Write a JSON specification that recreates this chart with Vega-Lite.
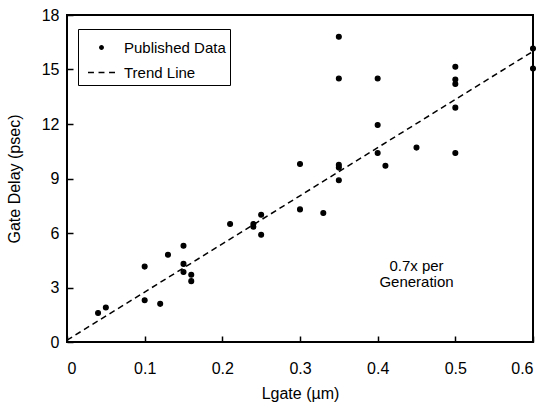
{
  "$schema": "https://vega.github.io/schema/vega-lite/v6.json",
  "width": 466,
  "height": 327,
  "autosize": {"type": "none"},
  "padding": {"left": 67, "top": 15, "right": 14, "bottom": 69},
  "background": "white",
  "config": {
    "view": {"stroke": "black", "strokeWidth": 2},
    "font": "Liberation Sans",
    "axis": {
      "grid": false,
      "domain": false,
      "tickColor": "black",
      "tickWidth": 1.5,
      "tickSize": -6,
      "labelColor": "black",
      "labelFontSize": 16,
      "labelFont": "Liberation Sans",
      "titleFont": "Liberation Sans",
      "titleFontSize": 16,
      "titleFontWeight": "normal",
      "titleColor": "black"
    }
  },
  "data": {
    "values": [
      {"series": "Trend Line", "lgate": 0, "delay": 0.1},
      {"series": "Trend Line", "lgate": 0.6, "delay": 16},
      {"series": "Published Data", "lgate": 0.04, "delay": 1.6},
      {"series": "Published Data", "lgate": 0.05, "delay": 1.9},
      {"series": "Published Data", "lgate": 0.1, "delay": 4.15},
      {"series": "Published Data", "lgate": 0.1, "delay": 2.3},
      {"series": "Published Data", "lgate": 0.12, "delay": 2.1},
      {"series": "Published Data", "lgate": 0.13, "delay": 4.8},
      {"series": "Published Data", "lgate": 0.15, "delay": 5.3},
      {"series": "Published Data", "lgate": 0.15, "delay": 4.3},
      {"series": "Published Data", "lgate": 0.15, "delay": 3.85},
      {"series": "Published Data", "lgate": 0.16, "delay": 3.7},
      {"series": "Published Data", "lgate": 0.16, "delay": 3.35},
      {"series": "Published Data", "lgate": 0.21, "delay": 6.5},
      {"series": "Published Data", "lgate": 0.24, "delay": 6.5},
      {"series": "Published Data", "lgate": 0.24, "delay": 6.35},
      {"series": "Published Data", "lgate": 0.25, "delay": 7.0},
      {"series": "Published Data", "lgate": 0.25, "delay": 5.9},
      {"series": "Published Data", "lgate": 0.3, "delay": 7.3},
      {"series": "Published Data", "lgate": 0.3, "delay": 9.8},
      {"series": "Published Data", "lgate": 0.33, "delay": 7.1},
      {"series": "Published Data", "lgate": 0.35, "delay": 16.8},
      {"series": "Published Data", "lgate": 0.35, "delay": 14.5},
      {"series": "Published Data", "lgate": 0.35, "delay": 9.75},
      {"series": "Published Data", "lgate": 0.35, "delay": 9.6},
      {"series": "Published Data", "lgate": 0.35, "delay": 8.9},
      {"series": "Published Data", "lgate": 0.4, "delay": 14.5},
      {"series": "Published Data", "lgate": 0.4, "delay": 11.95},
      {"series": "Published Data", "lgate": 0.4, "delay": 10.4},
      {"series": "Published Data", "lgate": 0.41, "delay": 9.7},
      {"series": "Published Data", "lgate": 0.45, "delay": 10.7},
      {"series": "Published Data", "lgate": 0.5, "delay": 15.15},
      {"series": "Published Data", "lgate": 0.5, "delay": 14.45},
      {"series": "Published Data", "lgate": 0.5, "delay": 14.2},
      {"series": "Published Data", "lgate": 0.5, "delay": 12.9},
      {"series": "Published Data", "lgate": 0.5, "delay": 10.4},
      {"series": "Published Data", "lgate": 0.6, "delay": 16.15},
      {"series": "Published Data", "lgate": 0.6, "delay": 15.05}
    ]
  },
  "layer": [
    {
      "transform": [{"filter": "datum.series === 'Trend Line'"}],
      "mark": {"type": "line", "color": "black", "strokeWidth": 1.5, "strokeDash": [6, 4], "clip": true},
      "encoding": {
        "x": {
          "field": "lgate",
          "type": "quantitative",
          "title": "Lgate (µm)",
          "scale": {"domain": [0, 0.6], "nice": false, "zero": false},
          "axis": {"values": [0, 0.1, 0.2, 0.3, 0.4, 0.5, 0.6], "format": "~g", "labelPadding": 24, "titlePadding": 9}
        },
        "y": {
          "field": "delay",
          "type": "quantitative",
          "title": "Gate Delay (psec)",
          "scale": {"domain": [0, 18], "nice": false},
          "axis": {"values": [0, 3, 6, 9, 12, 15, 18], "labelPadding": 14, "titlePadding": 19}
        }
      }
    },
    {
      "transform": [{"filter": "datum.series === 'Published Data'"}],
      "mark": {"type": "point", "filled": true, "color": "black", "size": 729, "opacity": 1, "stroke": "black", "strokeWidth": 1.2},
      "encoding": {
        "x": {"field": "lgate", "type": "quantitative"},
        "y": {"field": "delay", "type": "quantitative"},
        "shape": {
          "field": "series",
          "type": "nominal",
          "scale": {
            "domain": ["Published Data", "Trend Line"],
            "range": [
              "M0.18,0A0.18,0.18,0,1,1,-0.18,0A0.18,0.18,0,1,1,0.18,0Z",
              "M-1,-0.05L-0.56,-0.05L-0.56,0.05L-1,0.05ZM-0.22,-0.05L0.22,-0.05L0.22,0.05L-0.22,0.05ZM0.56,-0.05L1,-0.05L1,0.05L0.56,0.05Z"
            ]
          },
          "legend": {
            "title": null,
            "orient": "none",
            "legendX": 11,
            "legendY": 14,
            "strokeColor": "black",
            "fillColor": "white",
            "padding": 4,
            "labelFont": "Liberation Sans",
            "labelFontSize": 15,
            "labelColor": "black",
            "symbolSize": 729,
            "symbolStrokeColor": "black",
            "symbolFillColor": "black",
            "labelOffset": 8,
            "rowPadding": 2,
            "symbolOffset": 5,
            "encode": {
              "symbols": {
                "update": {
                  "stroke": {"value": "black"},
                  "strokeWidth": {"value": 1},
                  "fill": {"value": "black"},
                  "opacity": {"value": 1}
                }
              }
            }
          }
        }
      }
    },
    {
      "data": {"values": [{}]},
      "mark": {"type": "text", "font": "Liberation Sans", "fontSize": 15, "color": "black", "align": "center", "baseline": "alphabetic", "lineHeight": 16, "text": ["0.7x per", "Generation"]},
      "encoding": {
        "x": {"datum": 0.45, "type": "quantitative"},
        "y": {"datum": 3.89, "type": "quantitative"}
      }
    }
  ]
}
